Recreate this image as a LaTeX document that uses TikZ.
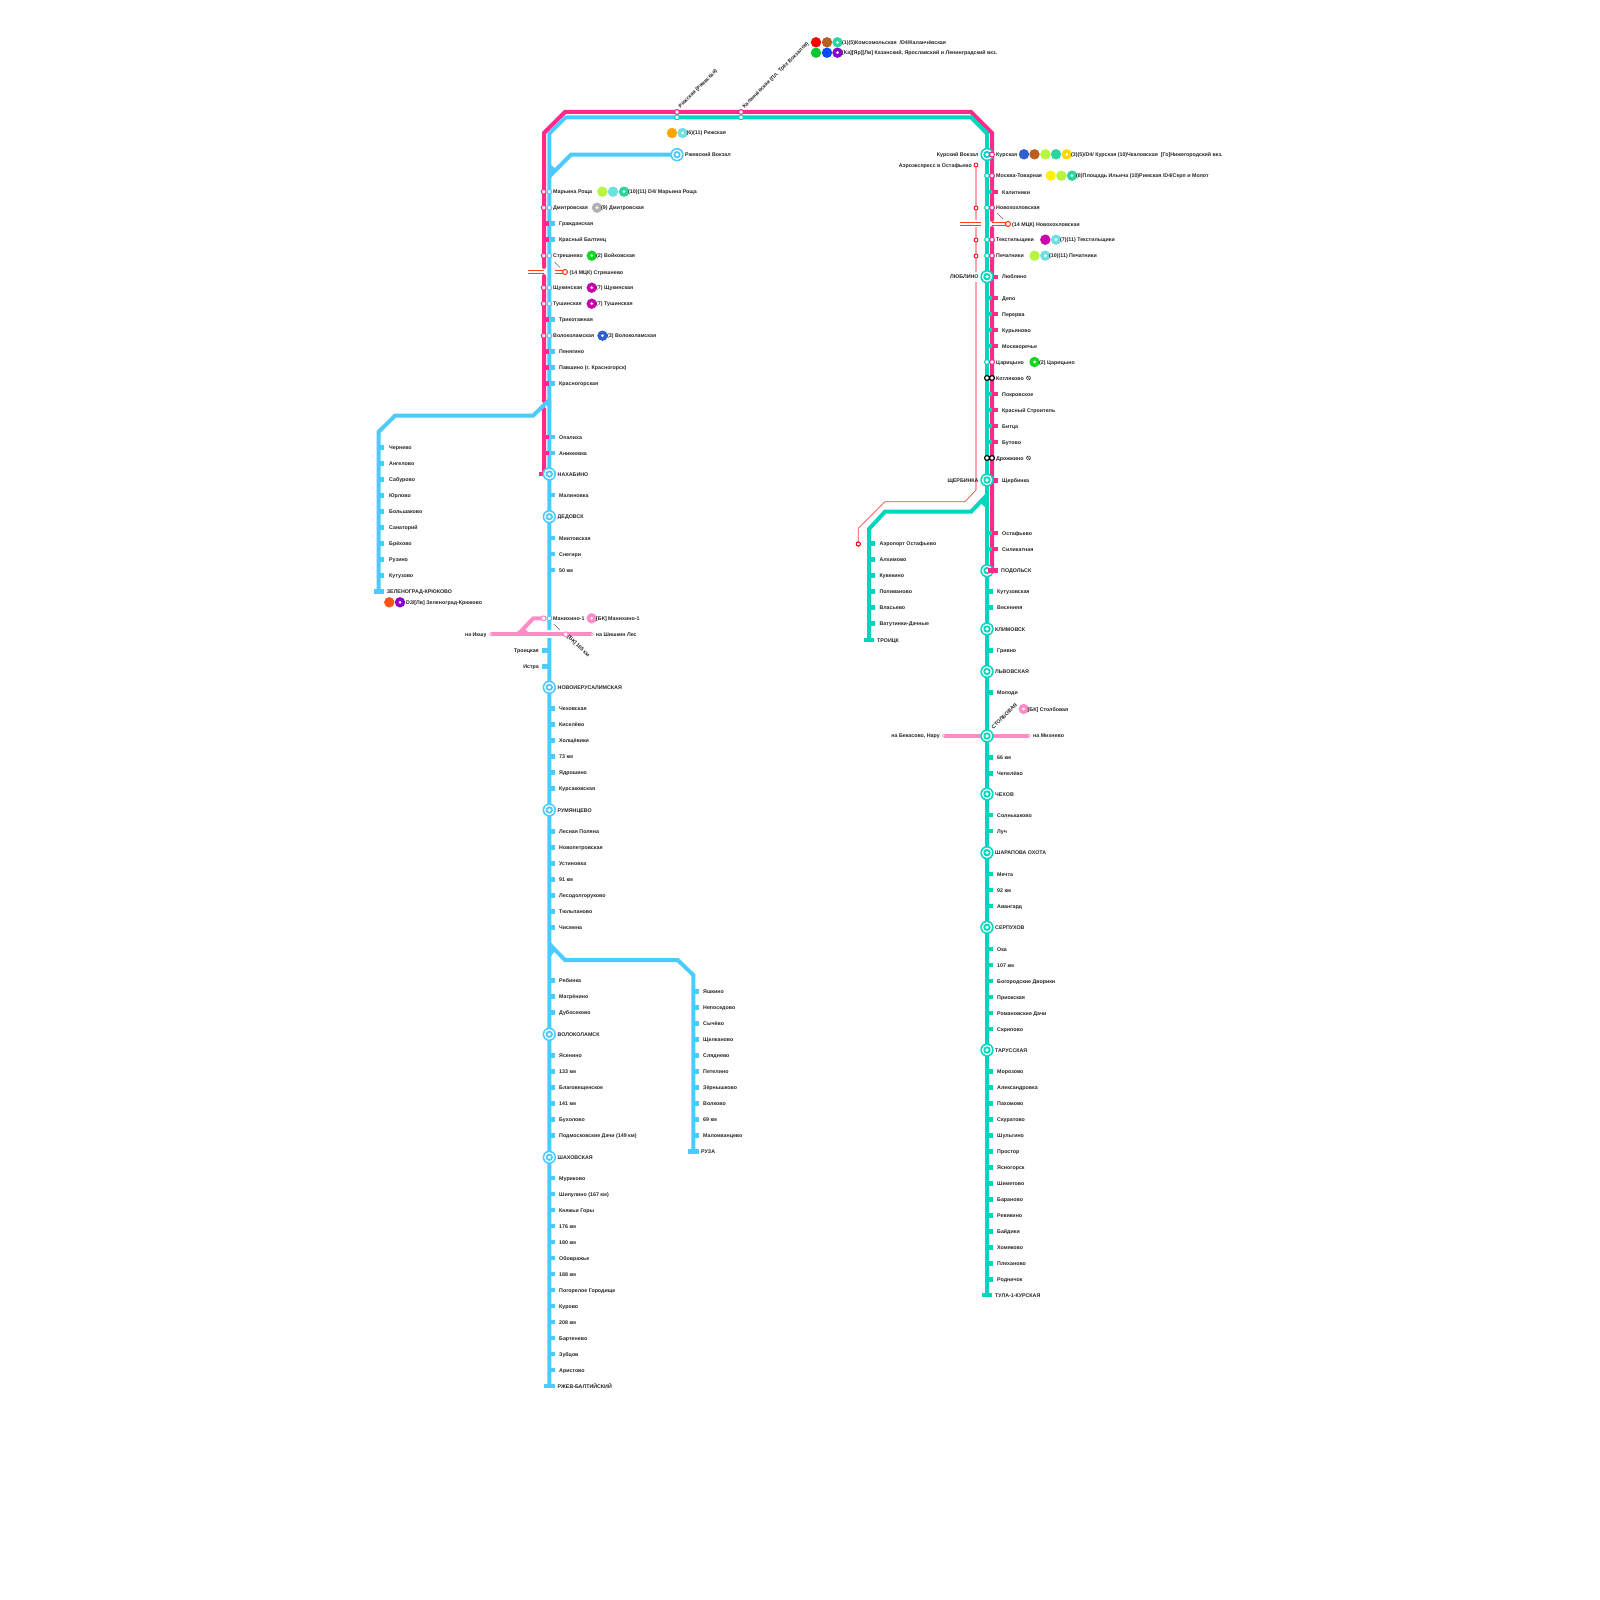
\documentclass[tikz,border=0pt]{standalone}
\usepackage{fontspec}
\setmainfont{Liberation Sans}
\definecolor{hpink}{HTML}{FF2A8A}
\definecolor{lblue}{HTML}{4BCBFF}
\definecolor{lteal}{HTML}{00D6BE}
\definecolor{bkpink}{HTML}{FF8CC4}
\definecolor{aero}{HTML}{FFA3AE}
\definecolor{aerothin}{HTML}{F04848}
\definecolor{mck}{HTML}{FF4020}
\definecolor{cLime}{HTML}{B8F53C}
\definecolor{cLTeal}{HTML}{6FE0E0}
\definecolor{cGT}{HTML}{2AD6A0}
\definecolor{cMag}{HTML}{CC00AA}
\definecolor{cGreen}{HTML}{10D820}
\definecolor{cBlue}{HTML}{3060D0}
\definecolor{cBrown}{HTML}{B8601C}
\definecolor{cOrange}{HTML}{FFA500}
\definecolor{cPurple}{HTML}{8800CC}
\definecolor{cYellow}{HTML}{FFD800}
\tikzset{
  lbl/.style={anchor=base west,yshift=-2pt,inner sep=0pt,font=\fontsize{5.3}{6}\selectfont\bfseries,text=black!85},
  lblr/.style={lbl,anchor=base east},
  rot/.style={anchor=base west,rotate=45,inner sep=0pt,font=\fontsize{5.3}{6}\selectfont\bfseries,text=black!85},
  rotd/.style={anchor=base west,rotate=-45,inner sep=0pt,font=\fontsize{5.3}{6}\selectfont\bfseries,text=black!85},
  trackline/.style={line width=4pt},
  smallring/.style={line width=1.1pt,fill=white},
  mcktrack/.style={draw=mck,line width=0.7pt},
  pointer/.style={draw=black!60,line width=0.6pt}
}
\newcommand\bigring[3]{%
  \fill[#3] (#1,#2) circle (6.7);\fill[white] (#1,#2) circle (5.2);%
  \fill[#3] (#1,#2) circle (3.7);\fill[white] (#1,#2) circle (1.8);}
\newcommand\xf[3]{\fill[#3] (#1,#2) circle (5.2);}
\newcommand\xfd[3]{\fill[#3] (#1,#2) circle (5.2);\fill[white] (#1,#2) circle (1.5);}
\newcommand\sr[3]{\draw[smallring,draw=#3] (#1,#2) circle (2.4);}
\newcommand\ar[2]{\draw[red,line width=.8pt,fill=white] (#1,#2) circle (2);}
\newcommand\tk[4]{\fill[#4] (#1,#3-2.4) rectangle (#2,#3+2.4);}
\newcommand\noentry[2]{\draw[line width=.5pt,black!80] (#1,#2) circle (2) (#1-1.4,#2-1.4) -- (#1+1.4,#2+1.4);}
\begin{document}
\begin{tikzpicture}[x=1pt,y=-1pt]
\useasboundingbox[fill=white] (0,0) rectangle (1600,1600);
% named track points
\coordinate (pA) at (544,267); \coordinate (pB) at (544,133); \coordinate (pC) at (565,112);
\coordinate (pD) at (971,112); \coordinate (pE) at (992,133); \coordinate (pF) at (992,220);
\coordinate (pG) at (992,228); \coordinate (pH) at (992,571);
\coordinate (pI) at (544,276); \coordinate (pJ) at (544,401); \coordinate (pK) at (544,409); \coordinate (pL) at (544,474);
\coordinate (rzh) at (677,117.3); \coordinate (bA) at (565.5,117.3); \coordinate (bB) at (549.3,133.5);
\coordinate (bC) at (549.3,630); \coordinate (bD) at (549.3,638); \coordinate (bE) at (549.3,1386);
\coordinate (tA) at (971,117.3); \coordinate (tB) at (987,133.5); \coordinate (tC) at (987,1295);
\coordinate (rvA) at (677,154.7); \coordinate (rvB) at (571,154.7); \coordinate (rvC) at (549.3,176.5);
\coordinate (zA) at (549.3,400); \coordinate (zB) at (533,415.7); \coordinate (zC) at (395,415.7); \coordinate (zD) at (378.5,432); \coordinate (zE) at (378.5,591.7);
\coordinate (ruA) at (549.3,944); \coordinate (ruB) at (565,960); \coordinate (ruC) at (677.7,960); \coordinate (ruD) at (693.3,975); \coordinate (ruE) at (693.3,1151.7);
\coordinate (trA) at (987,495); \coordinate (trB) at (971,511.7); \coordinate (trC) at (885,511.7); \coordinate (trD) at (869,529); \coordinate (trE) at (869,640);
% aeroexpress
\coordinate (aA) at (976,165); \coordinate (aB) at (976,220); \coordinate (aC) at (976,227); \coordinate (aD) at (976,272); \coordinate (aE) at (976,282); \coordinate (aF) at (976,490);
\coordinate (aG) at (965,501.7); \coordinate (aH) at (885,501.7); \coordinate (aI) at (858.3,528.3); \coordinate (aJ) at (858.3,544);
\draw[aero,line width=1.8pt] (aA) -- (aB) (aC) -- (aD) (aE) -- (aF);
\draw[aerothin,line width=.7pt] (aF) -- (aG) -- (aH) -- (aI) -- (aJ);
\foreach \y in {165,208,240,256} \ar{976}{\y}
\ar{858.3}{544}
% bk lines
\coordinate (bkA) at (490.7,634.3); \coordinate (bkB) at (592,634.3); \coordinate (bkC) at (518,634.3); \coordinate (bkD) at (533.3,618.3); \coordinate (bkE) at (543.7,618.3);
\coordinate (bkF) at (943.7,735.7); \coordinate (bkG) at (1029.3,735.7);
% tracks
\draw[hpink,trackline,line cap=round] (pA) -- (pB) -- (pC) -- (pD) -- (pE) -- (pF) (pG) -- (pH) (pI) -- (pJ) (pK) -- (pL);
\draw[lblue,trackline] (rzh) -- (bA) -- (bB) -- (bC) (bD) -- (bE);
\draw[lteal,trackline] (rzh) -- (tA) -- (tB) -- (tC);
\draw[lblue,trackline] (rvA) -- (rvB) -- (rvC);
\fill[lblue] (551,165) -- (557,170) -- (551,177) -- cycle;
\draw[lblue,trackline] (zA) -- (zB) -- (zC) -- (zD) -- (zE);
\fill[lblue] (551,400) -- (551,412) -- (546,404) -- cycle;
\draw[lblue,trackline] (ruA) -- (ruB) -- (ruC) -- (ruD) -- (ruE);
\fill[lblue] (551,943) -- (556,950) -- (551,956) -- cycle;
\draw[lteal,trackline] (trA) -- (trB) -- (trC) -- (trD) -- (trE);
\fill[lteal] (985,495) -- (985,507) -- (979,502) -- cycle;
\draw[bkpink,trackline] (bkA) -- (bkB);
\draw[bkpink,trackline] (bkC) -- (bkD) -- (bkE);
\fill[bkpink] (515,633) -- (529,633) -- (524,628) -- cycle;
\draw[bkpink,trackline] (bkF) -- (bkG);
% terminal ticks
\tk{374}{384}{591.7}{lblue} \tk{544}{554.5}{1386}{lblue} \tk{688}{698.5}{1151.7}{lblue}
\tk{864}{874}{640}{lteal} \tk{982}{992}{1295}{lteal}
\tk{539}{546}{474}{hpink}
% left double track plain stations
\foreach \y/\t [count=\n] in {223.6/Гражданская,239.6/Красный Балтиец,319.6/Трикотажная,351.6/Пенягино,367.6/Павшино (г. Красногорск),383.6/Красногорская,437/Опалиха,453/Аникеевка}{
  \tk{544}{549.5}{\y}{hpink}\tk{549.3}{554.5}{\y}{lblue}
  \node[lbl] (lp\n) at (559,\y) {\t};}
% blue-only stations
\foreach \y/\t [count=\n] in {495/Малиновка,538/Миитовская,554/Снегири,570/50 км,708.5/Чеховская,724.5/Киселёво,740.5/Холщёвики,756.5/73 км,772.5/Ядрошино,788.5/Курсаковская,831.5/Лесная Поляна,847.5/Новопетровская,863.5/Устиновка,879.5/91 км,895.5/Лесодолгоруково,911.5/Тюльпаново,927.5/Чисмена,980.7/Рябинка,996.7/Матрёнино,1012.7/Дубосеково,1055.3/Ясенино,1071.3/133 км,1087.3/Благовещенское,1103.3/141 км,1119.3/Бухолово,1135.3/Подмосковские Дачи (149 км),1178/Муриково,1194/Шипулино (167 км),1210/Княжьи Горы,1226/176 км,1242/180 км,1258/Обовражье,1274/188 км,1290/Погорелое Городище,1306/Курово,1322/208 км,1338/Бартенево,1354/Зубцов,1370/Аристово}{
  \tk{549.3}{554.5}{\y}{lblue}
  \node[lbl] (bs\n) at (559,\y) {\t};}
% big blue stations
\foreach \y/\t [count=\n] in {474/НАХАБИНО,516.7/ДЕДОВСК,687.3/НОВОИЕРУСАЛИМСКАЯ,810/РУМЯНЦЕВО,1034.3/ВОЛОКОЛАМСК,1157.3/ШАХОВСКАЯ}{
  \bigring{549.3}{\y}{lblue}
  \node[lbl] (bb\n) at (557.5,\y) {\t};}
\node[lbl] (rzhb) at (557.5,1386) {РЖЕВ-БАЛТИЙСКИЙ};
% Zelenograd
\foreach \y/\t [count=\n] in {447.7/Чернево,463.7/Ангелово,479.7/Сабурово,495.7/Юрлово,511.7/Большаково,527.7/Санаторий,543.7/Брёхово,559.7/Рузино,575.7/Кутузово}{
  \tk{378.5}{384}{\y}{lblue}
  \node[lbl] (zl\n) at (389,\y) {\t};}
\node[lbl] (zlt) at (386.7,591.7) {ЗЕЛЕНОГРАД-КРЮКОВО};
\xf{389.3}{602.3}{mck!70!orange}\xfd{400}{602.3}{cPurple}
\node[lbl] (zlx) at (406,602.3) {D3/[Лв] Зеленоград-Крюково};
% Ruza
\foreach \y/\t [count=\n] in {991.7/Яшкино,1007.7/Непоседово,1023.7/Сычёво,1039.7/Щелканово,1055.7/Сляднево,1071.7/Петелино,1087.7/Зёрнышково,1103.7/Волково,1119.7/69 км,1135.7/Малоиванцево}{
  \tk{693.3}{699}{\y}{lblue}
  \node[lbl] (ru\n) at (703,\y) {\t};}
\node[lbl] (rut) at (701,1151.7) {РУЗА};
% Troitsk
\foreach \y/\t [count=\n] in {543.7/Аэропорт Остафьево,559.7/Алхимово,575.7/Кувекино,591.7/Поливаново,607.7/Власьево,623.7/Ватутинки-Дачные}{
  \tk{869}{874.5}{\y}{lteal}
  \node[lbl] (tr\n) at (879.3,\y) {\t};}
\node[lbl] (trt) at (877,640) {ТРОИЦК};
% right double plain
\foreach \y/\t [count=\n] in {192/Калитники,298/Депо,314/Перерва,330/Курьяново,346/Москворечье,394/Покровское,410/Красный Строитель,426/Битца,442/Бутово,533/Остафьево,549/Силикатная}{
  \tk{987}{992}{\y}{lteal}\tk{992}{997.5}{\y}{hpink}
  \node[lbl] (rp\n) at (1002,\y) {\t};}
\tk{992}{997.5}{277}{hpink}\node[lbl] (rpl) at (1002,276.7) {Люблино};
\tk{992}{997.5}{480.5}{hpink}\node[lbl] (rps) at (1002,480) {Щербинка};
% teal-only stations
\foreach \y/\t [count=\n] in {591.7/Кутузовская,607.7/Весенняя,650.7/Гривно,692.7/Молоди,757.3/66 км,773.3/Чепелёво,815/Солнышково,831/Луч,874/Мечта,890/92 км,906/Авангард,949/Ока,965/107 км,981/Богородские Дворики,997/Приокская,1013/Романовские Дачи,1029/Скрипово,1071.5/Морозово,1087.5/Александровка,1103.5/Пахомово,1119.5/Скуратово,1135.5/Шульгино,1151.5/Простор,1167.5/Ясногорск,1183.5/Шеметово,1199.5/Бараново,1215.5/Ревякино,1231.5/Байдики,1247.5/Хомяково,1263.5/Плеханово,1279.5/Родничок}{
  \tk{987}{992.5}{\y}{lteal}
  \node[lbl] (ts\n) at (997,\y) {\t};}
\node[lbl] (tst) at (995,1295) {ТУЛА-1-КУРСКАЯ};
% teal big
\foreach \y/\t [count=\n] in {629/КЛИМОВСК,671.5/ЛЬВОВСКАЯ,794/ЧЕХОВ,852.7/ШАРАПОВА ОХОТА,927.3/СЕРПУХОВ,1050/ТАРУССКАЯ}{
  \bigring{987}{\y}{lteal}
  \node[lbl] (tb\n) at (995,\y) {\t};}
\bigring{987}{570.7}{lteal}\tk{988}{998}{570.7}{hpink}
\node[lbl] (tbp) at (1001,570.7) {ПОДОЛЬСК};
\bigring{987}{154.5}{lteal}\bigring{987}{276.7}{lteal}\bigring{987}{480}{lteal}\bigring{987}{736}{lteal}
\node[lblr] (lvK) at (978.7,154.5) {Курский Вокзал};
\node[lblr] (lvL) at (978.7,276.7) {ЛЮБЛИНО};
\node[lblr] (lvS) at (978.7,480) {ЩЕРБИНКА};
\node[lblr] (lvA) at (972,165) {Аэроэкспресс в Остафьево};
\node[rot] (stb) at (993.5,729.5) {СТОЛБОВАЯ};
\bigring{677}{154.7}{lblue}
\node[lbl] (rvt) at (685,154.7) {Ржевский Вокзал};
% left double rings
\foreach \y/\t [count=\n] in {191.7/Марьина Роща,207.7/Дмитровская,255.7/Стрешнево,287.7/Щукинская,303.7/Тушинская,335.7/Волоколамская}{
  \sr{543.7}{\y}{hpink}\sr{549.3}{\y}{lblue}
  \node[lbl] (ld\n) at (553,\y) {\t};}
% right double rings
\foreach \y/\t [count=\n] in {175.7/Москва-Товарная,207.7/Новохохловская,239.7/Текстильщики,255.7/Печатники,362/Царицыно}{
  \sr{987}{\y}{lteal}\sr{992}{\y}{hpink}
  \node[lbl] (rd\n) at (996,\y) {\t};}
\sr{992}{154.5}{hpink}\node[lbl] (rdk) at (996,154.5) {Курская};
% black rings
\foreach \y/\t [count=\n] in {378/Котляково,458/Дрожжино}{
  \draw[black,line width=1.2pt,fill=white] (987,\y) circle (2.4) (992,\y) circle (2.4);
  \node[lbl] (blk\n) at (996,\y) {\t};
  \noentry{1028.5}{\y}}
% top interchanges
\sr{677}{112}{hpink}\sr{677}{117.3}{lteal}\sr{741}{112}{hpink}\sr{741}{117.3}{lteal}
\node[rot] (rk) at (680.5,108.5) {Рижская (Ржевская)};
\node[rot] (kl) at (744.5,108.5) {Каланчёвская (Пл. Трёх Вокзалов)};
\xf{816}{42.3}{red}\xf{827}{42.3}{cBrown}\xfd{837.5}{42.3}{cGT}
\xf{816}{52.7}{cGreen!80!teal}\xf{827}{52.7}{blue!70!cyan}\xfd{837.5}{52.7}{cPurple}
\node[lbl] (x1) at (842,42.3) {(1)(5)Комсомольская\ \ /D4/Каланчёвская};
\node[lbl] (x2) at (842,52.7) {[Ка][Яр][Лв] Казанский, Ярославский и Ленинградский вкз.};
\xf{672}{133}{cOrange}\xfd{682.6}{133}{cLTeal}
\node[lbl] (x3) at (686.5,133) {(6)(11) Рижская};
\xf{602.3}{191.7}{cLime}\xf{613}{191.7}{cLTeal}\xfd{624}{191.7}{cGT}
\node[lbl] (x4) at (628,191.7) {(10)(11) D4/ Марьина Роща};
\xfd{597}{207.7}{black!30}\node[lbl] (x5) at (601,207.7) {(9) Дмитровская};
\xfd{591.7}{255.7}{cGreen}\node[lbl] (x6) at (596,255.7) {(2) Войковская};
\xfd{591.7}{287.7}{cMag}\node[lbl] (x7) at (596,287.7) {(7) Щукинская};
\xfd{591.7}{303.7}{cMag}\node[lbl] (x8) at (596,303.7) {(7) Тушинская};
\xfd{602.5}{335.7}{cBlue}\node[lbl] (x9) at (607,335.7) {(3) Волоколамская};
\xf{1024}{154.3}{cBlue}\xf{1034.5}{154.3}{cBrown}\xf{1045.3}{154.3}{cLime}\xf{1056}{154.3}{cGT}\xfd{1066.7}{154.3}{cYellow}
\node[lbl] (x10) at (1071,154.3) {(3)(5)/D4/ Курская (10)Чкаловская\ \ [Го]Нижегородский вкз.};
\xf{1050.7}{175.7}{yellow}\xf{1061.3}{175.7}{cLime}\xfd{1072}{175.7}{cGT}
\node[lbl] (x11) at (1076,175.7) {(8)Площадь Ильича (10)Римская /D4/Серп и Молот};
\xf{1045.3}{239.7}{cMag}\xfd{1056}{239.7}{cLTeal}
\node[lbl] (x12) at (1060,239.7) {(7)(11) Текстильщики};
\xf{1034.5}{255.7}{cLime}\xfd{1045.3}{255.7}{cLTeal}
\node[lbl] (x13) at (1049,255.7) {(10)(11) Печатники};
\xfd{1034.5}{362}{cGreen}\node[lbl] (x14) at (1039,362) {(2) Царицыно};
% MCK
\draw[mcktrack] (528,270.5) -- (544,270.5) (528,273.5) -- (544,273.5) (555,270.5) -- (565,270.5) (555,273.5) -- (565,273.5);
\draw[mck,line width=1.1pt,fill=white] (565,272) circle (2.5);
\node[lbl] (m1) at (569.5,272) {(14 МЦК) Стрешнево};
\draw[pointer] (554.5,262) -- (560,267.5);
\draw[mcktrack] (960,222.5) -- (981,222.5) (960,225.5) -- (981,225.5) (992,222.5) -- (1007,222.5) (992,225.5) -- (1007,225.5);
\draw[mck,line width=1.1pt,fill=white] (1008,224) circle (2.5);
\node[lbl] (m2) at (1012,224) {(14 МЦК) Новохохловская};
\draw[pointer] (997,213) -- (1003,219);
% BK
\sr{543.7}{618.3}{bkpink}\sr{549.3}{618.3}{lblue}
\node[lbl] (bk1) at (553,618.3) {Манихино-1};
\xfd{591.7}{618.3}{bkpink}\node[lbl] (bk2) at (596,618.3) {[БК] Манихино-1};
\draw[bkpink,fill=white,line width=.5pt] (bkA) circle (1.5) (bkB) circle (1.5) (bkF) circle (1.5) (bkG) circle (1.5);
\sr{565.7}{634.3}{bkpink}
\node[lblr] (bk3) at (486.7,634.3) {на Икшу};
\node[lbl] (bk4) at (595.7,634.3) {на Шишкин Лес};
\draw[pointer] (554,624) -- (560,630);
\node[rotd] (bk5) at (567,637) {[БК] 165 км};
\tk{542.3}{549.3}{650.3}{lblue}\tk{542.3}{549.3}{666.3}{lblue}
\node[lblr] (bk6) at (539,650.3) {Троицкая};
\node[lblr] (bk7) at (539,666.3) {Истра};
\node[lblr] (bk8) at (940,735.7) {на Бекасово, Нару};
\node[lbl] (bk9) at (1033,735.7) {на Михнево};
\xfd{1023.7}{709}{bkpink}\node[lbl] (bk10) at (1027.5,709) {[БК] Столбовая};
\end{tikzpicture}
\end{document}
